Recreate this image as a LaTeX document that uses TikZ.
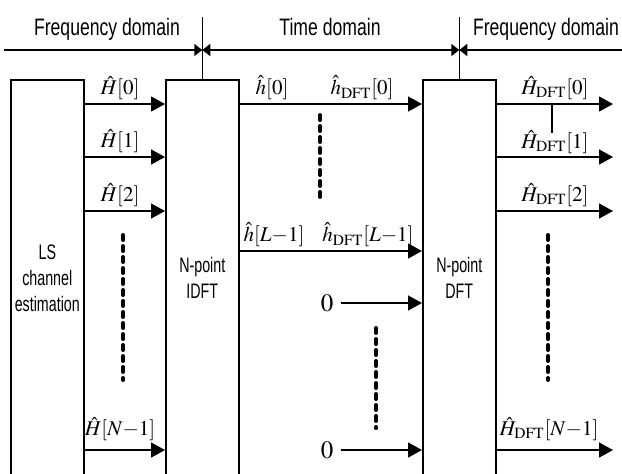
\documentclass[tikz,border=0pt]{standalone}
\usepackage{mathptmx}
\usepackage[no-math]{fontspec}
\setmainfont{Liberation Sans}[FakeStretch=0.74]
\newfontfamily\boxfont{Liberation Sans}[FakeStretch=0.68]
\usetikzlibrary{arrows.meta}

\begin{document}
\begin{tikzpicture}[x=0.5pt,y=-0.5pt,
    blk/.style={draw, line width=0.8pt, minimum width=36.5pt, minimum height=198pt,
        anchor=north west, inner sep=0pt, align=center, font=\boxfont\fontsize{10.5}{13}\selectfont},
    sig/.style={line width=0.8pt, -{Triangle[length=7pt,width=7.5pt]}},
    dom/.style={line width=0.8pt, -{Triangle[length=4pt,width=6pt]}},
    lbl/.style={inner sep=0pt, font=\fontsize{10.5}{12}\selectfont},
    dlbl/.style={anchor=base, inner sep=0pt, font=\fontsize{11.9}{14}\selectfont},
    dotcol/.style={line width=2pt, line cap=round, dash pattern=on 2.5pt off 3pt}]
    \clip (0,0) rectangle (622,473);

    % Blocks
    \node[blk] (ls) at (10,79) {LS\\channel\\estimation};
    \node[blk] (idft) at (165,79) {N-point\\IDFT};
    \node[blk] (dft) at (422,79) {N-point\\DFT};

    % Domains along the top
    \node[dlbl] (fq1) at (107,35) {Frequency domain};
    \node[dlbl] (tm) at (330,35) {Time domain};
    \node[dlbl] (fq2) at (546,35) {Frequency domain};
    \coordinate (fL) at (4,50);
    \coordinate (fR) at (622,50);
    \coordinate (mA) at (idft.north |- fL);
    \coordinate (mB) at (dft.north |- fL);
    \draw[line width=0.8pt] (idft.north) -- (idft.north |- 0,17);
    \draw[line width=0.8pt] (dft.north) -- (dft.north |- 0,17);
    \draw[dom] (fL) -- (mA);
    \draw[dom, {Triangle[length=4pt,width=6pt]}-{Triangle[length=4pt,width=6pt]}] (mA) -- (mB);
    \draw[dom] (fR) -- (mB);

    % LS estimates into IDFT
    \node[lbl] (H0) at (120,88) {$\hat{H}[0]$};
    \node[lbl] (H1) at (120,141) {$\hat{H}[1]$};
    \node[lbl] (H2) at (120,195) {$\hat{H}[2]$};
    \node[lbl] (HN) at (120,429) {$\hat{H}[N{-}1]$};
    \foreach \y in {104,157,211,450}
        \draw[sig] (ls.east |- 0,\y) -- (idft.west |- 0,\y);
    \draw[dotcol] (123,235) -- (123,380);

    % Time domain taps into DFT
    \node[lbl] (h0) at (272,88) {$\hat{h}[0]$};
    \node[lbl] (hd0) at (362,88) {$\hat{h}_{\mathrm{DFT}}[0]$};
    \node[lbl] (hL) at (274,235) {$\hat{h}[L{-}1]$};
    \node[lbl] (hdL) at (368,235) {$\hat{h}_{\mathrm{DFT}}[L{-}1]$};
    \draw[sig] (idft.east |- 0,104) -- (dft.west |- 0,104);
    \draw[sig] (idft.east |- 0,251) -- (dft.west |- 0,251);
    \draw[dotcol] (320,115) -- (320,200);

    % Zero padding
    \node[lbl, font=\fontsize{12.5}{14}\selectfont] (z1) at (327,303) {$0$};
    \node[lbl, font=\fontsize{12.5}{14}\selectfont] (z2) at (327,450) {$0$};
    \draw[sig] ([xshift=3.5pt]z1.east) -- (dft.west |- z1);
    \draw[sig] ([xshift=3.5pt]z2.east) -- (dft.west |- z2);
    \draw[dotcol] (376,328) -- (376,428);

    % DFT outputs
    \node[lbl] (Hd0) at (555,88) {$\hat{H}_{\mathrm{DFT}}[0]$};
    \node[lbl] (Hd1) at (555,142) {$\hat{H}_{\mathrm{DFT}}[1]$};
    \node[lbl] (Hd2) at (555,195) {$\hat{H}_{\mathrm{DFT}}[2]$};
    \node[lbl] (HdN) at (549,429) {$\hat{H}_{\mathrm{DFT}}[N{-}1]$};
    \foreach \y in {104,157,211,450}
        \draw[sig] (dft.east |- 0,\y) -- (613,\y);
    \draw[line width=0.6pt] (552,104) -- (552,133);
    \draw[dotcol] (548,235) -- (548,380);
\end{tikzpicture}
\end{document}
